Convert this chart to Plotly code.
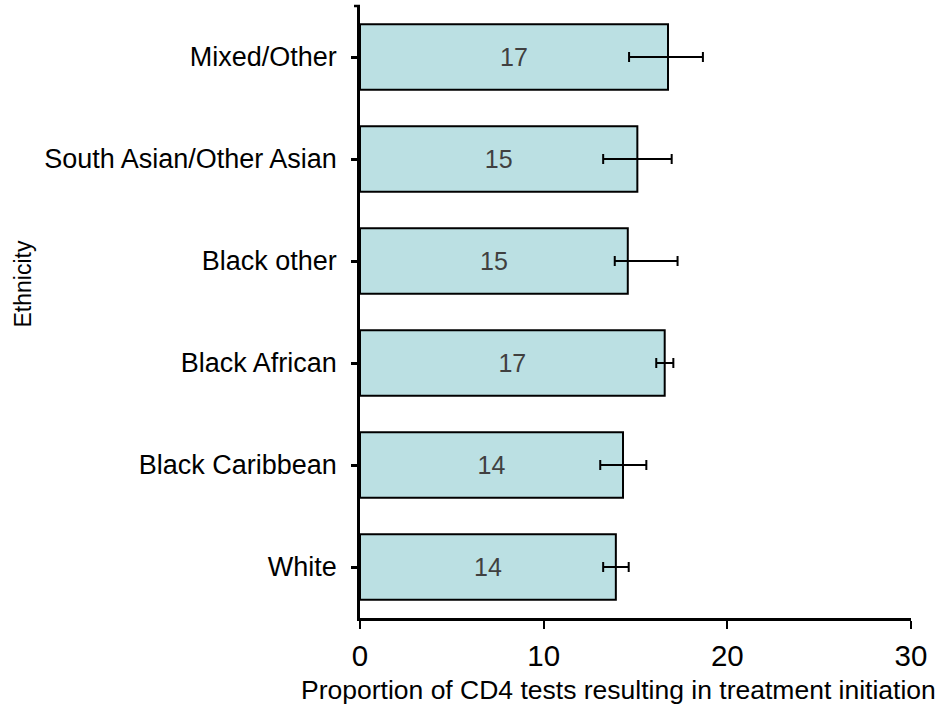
import plotly.graph_objects as go

# Ethnic groups, bottom to top
ethnicity = ["White", "Black Caribbean", "Black African", "Black other",
             "South Asian/Other Asian", "Mixed/Other"]
# Proportion of CD4 tests resulting in treatment initiation (%)
proportion = [13.93, 14.32, 16.59, 14.58, 15.10, 16.77]
# 95% confidence interval bounds
ci_lower = [13.24, 13.08, 16.13, 13.87, 13.24, 14.65]
ci_upper = [14.63, 15.59, 17.06, 17.29, 16.97, 18.67]
x_ticks = [0, 10, 20, 30]

FONT = "Liberation Sans, Arial, sans-serif"

err_plus = [u - v for u, v in zip(ci_upper, proportion)]
err_minus = [v - l for v, l in zip(proportion, ci_lower)]

fig = go.Figure(go.Bar(
    y=ethnicity,
    x=proportion,
    orientation="h",
    marker=dict(color="#BBE0E3", line=dict(color="black", width=2)),
    texttemplate="%{x:.0f}",
    textposition="inside",
    insidetextanchor="middle",
    textfont=dict(family=FONT, size=25, color="#404040"),
    error_x=dict(type="data", symmetric=False, array=err_plus,
                 arrayminus=err_minus, color="black", thickness=2, width=5),
))

fig.update_layout(
    width=938, height=710,
    margin=dict(l=360, r=27, t=6, b=92),
    paper_bgcolor="white", plot_bgcolor="white",
    bargap=0.36,
    showlegend=False,
    font=dict(family=FONT, color="black"),
    xaxis=dict(range=[0, 30], tickvals=x_ticks, showgrid=False, zeroline=False,
               showline=True, linecolor="black", linewidth=2.5,
               ticks="outside", ticklen=8, tickwidth=2, tickcolor="black",
               ticklabelstandoff=2,
               tickfont=dict(family=FONT, size=29.5, color="black")),
    yaxis=dict(range=[-0.5, 5.5], showgrid=False, zeroline=False,
               showline=True, linecolor="black", linewidth=2.5,
               ticks="outside", ticklen=6, tickwidth=2.5, tickcolor="black",
               ticklabelstandoff=9,
               tickfont=dict(family=FONT, size=27, color="black")),
    shapes=[dict(type="line", xref="paper", yref="paper",
                 x0=-6 / 551, x1=0, y0=1, y1=1,
                 line=dict(color="black", width=2.5))],
    annotations=[
        dict(text="Ethnicity", textangle=-90, xref="paper", yref="paper",
             x=(22.5 - 360) / 551, y=(618 - 284) / 612,
             xanchor="center", yanchor="middle", showarrow=False,
             font=dict(family=FONT, size=23, color="black")),
        dict(text="Proportion of CD4 tests resulting in treatment initiation",
             xref="paper", yref="paper",
             x=(618 - 360) / 551, y=-(690 - 618) / 612,
             xanchor="center", yanchor="middle", showarrow=False,
             font=dict(family=FONT, size=26.5, color="black")),
    ],
)

fig.write_html("out.html")
